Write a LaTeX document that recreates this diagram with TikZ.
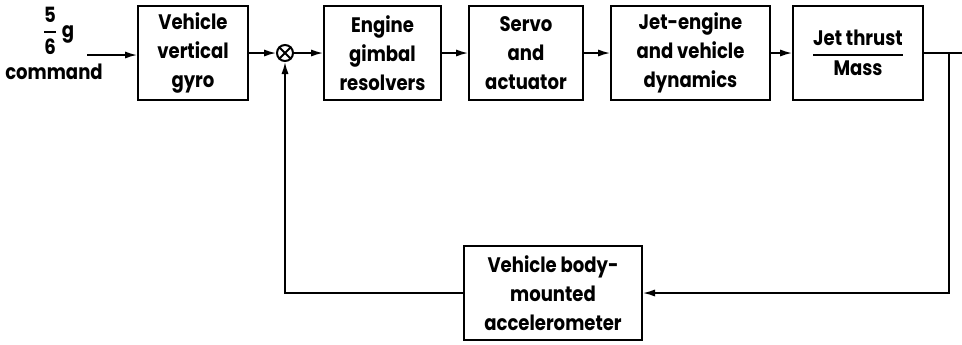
\documentclass[tikz,border=0pt]{standalone}
\usepackage{amsmath}
\usepackage{fontspec}
\setmainfont{Poppins}[FakeStretch=0.86]
\usetikzlibrary{arrows.meta, calc, positioning}
\tikzset{
  blk/.style     = {draw, line width=1pt, align=center, inner sep=2pt,
                    minimum height=47pt},
  sumnode/.style = {draw, circle, line width=1pt, minimum size=8pt,
                    inner sep=0pt},
  flow/.style    = {-{Latex[length=6pt, width=3.6pt]}, line width=0.8pt},
  wire/.style    = {line width=0.8pt},
}
% fraction with a bar as heavy as the box lines
\newcommand{\barfrac}[2]{\ensuremath{\genfrac{}{}{0.9pt}{0}{\text{#1}}{\text{#2}}}}

\begin{document}
\begin{tikzpicture}[x=0.5pt, y=-0.5pt,
    font=\bfseries\fontsize{10.5}{14.5}\selectfont]
  \useasboundingbox (0,0) rectangle (962,344);

  %% ================ forward path ================
  \node[blk, minimum width=55pt] (gyro) at (193,53) {Vehicle\\vertical\\gyro};
  \node[sumnode, right=13.5pt of gyro] (sum) {};
  \draw[line width=1pt] (sum.north west) -- (sum.south east)
                        (sum.north east) -- (sum.south west);

  \node[blk, minimum width=58.5pt, right=14.5pt of sum] (gimbal)
       {Engine\\gimbal\\resolvers};
  \node[blk, minimum width=57pt, right=13pt of gimbal] (servo)
       {Servo\\and\\actuator};
  \node[blk, minimum width=79.5pt, right=13pt of servo] (dyn)
       {Jet-engine\\and vehicle\\dynamics};
  \node[blk, minimum width=65pt, right=10.5pt of dyn] (thrust)
       {\barfrac{Jet thrust}{Mass}};

  %% ================ command input ================
  \node (gain) at (58,31) {\barfrac{5}{6}\,g};
  \node (cmd) at (54,72) {command};
  \coordinate (src) at (87,55);

  %% ================ feedback ================
  \node[blk, minimum width=89pt] (accel) at (553,293)
       {Vehicle body-\\mounted\\accelerometer};
  \coordinate[right=12.5pt of thrust.east] (tap);
  \coordinate[right=23.5pt of thrust.east] (out);

  %% ---------------- connectors ----------------
  \draw[flow] (src) -- (src -| gyro.west);
  \draw[flow] (gyro) -- (sum);
  \draw[flow] (sum) -- (gimbal);
  \draw[flow] (gimbal) -- (servo);
  \draw[flow] (servo) -- (dyn);
  \draw[flow] (dyn) -- (thrust);
  \draw[wire] (thrust) -- (out);
  \draw[flow] (tap) |- (accel);
  \draw[flow] (accel) -| (sum);

\end{tikzpicture}
\end{document}
